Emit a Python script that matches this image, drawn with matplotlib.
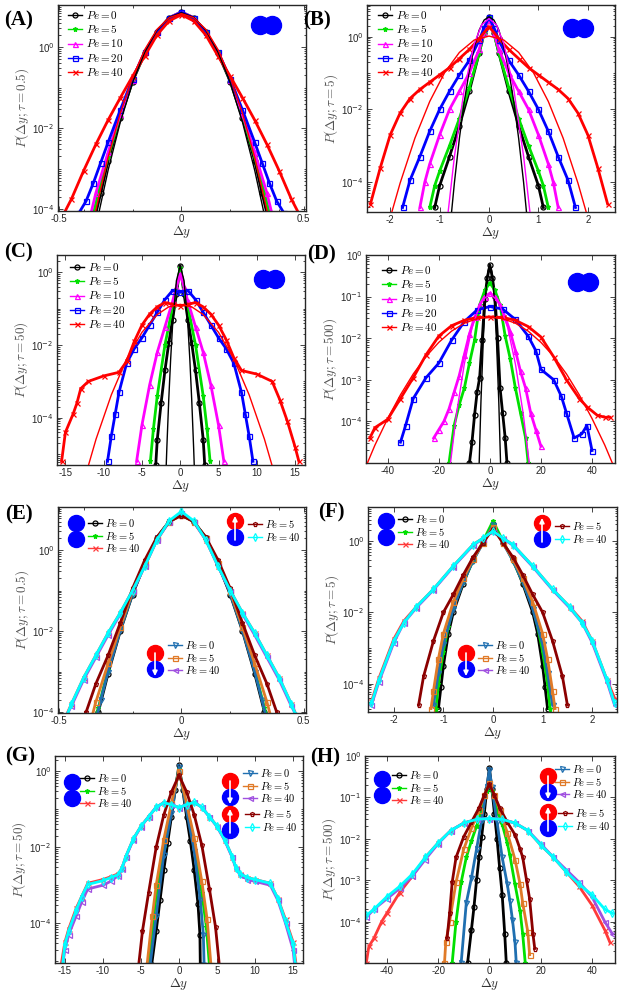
import numpy as np
import matplotlib
matplotlib.use('Agg')
import matplotlib.pyplot as plt
from matplotlib.lines import Line2D
from matplotlib.legend import Legend
from matplotlib.patches import FancyArrowPatch
from matplotlib.ticker import FixedLocator, FuncFormatter, LogLocator, NullFormatter

plt.rcParams['font.family'] = ['Liberation Sans', 'DejaVu Sans']
plt.rcParams['font.size'] = 7
plt.rcParams['axes.unicode_minus'] = False

# ---- data: x = delta y, lp = log10 P ----
# (A) tau = 0.5, side by side
a_x_pe0 = [-0.35, -0.33, -0.30, -0.25, -0.20, -0.15, -0.10, -0.05, 0.0, 0.05, 0.10, 0.15, 0.20, 0.25, 0.30, 0.33, 0.35]
a_lp_pe0 = [-4.1, -3.6, -2.8, -1.75, -0.85, -0.15, 0.37, 0.72, 0.86, 0.72, 0.37, -0.15, -0.85, -1.75, -2.8, -3.6, -4.1]
a_x_pe5 = [-0.36, -0.34, -0.30, -0.25, -0.20, -0.15, -0.10, -0.05, 0.0, 0.05, 0.10, 0.15, 0.20, 0.25, 0.30, 0.34, 0.36]
a_lp_pe5 = [-4.1, -3.6, -2.7, -1.7, -0.82, -0.13, 0.38, 0.73, 0.87, 0.73, 0.38, -0.13, -0.82, -1.7, -2.7, -3.6, -4.1]
a_x_pe10 = [-0.37, -0.35, -0.30, -0.25, -0.20, -0.15, -0.10, -0.05, 0.0, 0.05, 0.10, 0.15, 0.20, 0.25, 0.30, 0.35, 0.37]
a_lp_pe10 = [-4.1, -3.6, -2.6, -1.65, -0.8, -0.12, 0.38, 0.73, 0.87, 0.73, 0.38, -0.12, -0.8, -1.65, -2.6, -3.6, -4.1]
a_x_pe20 = [-0.42, -0.39, -0.36, -0.33, -0.30, -0.25, -0.20, -0.15, -0.10, -0.05, 0.0,
            0.05, 0.10, 0.15, 0.20, 0.25, 0.30, 0.33, 0.36, 0.39, 0.42]
a_lp_pe20 = [-4.1, -3.8, -3.35, -2.85, -2.35, -1.55, -0.78, -0.12, 0.37, 0.72, 0.86,
             0.72, 0.37, -0.12, -0.78, -1.55, -2.35, -2.85, -3.35, -3.8, -4.1]
a_x_pe40 = [-0.48, -0.45, -0.40, -0.35, -0.30, -0.25, -0.20, -0.15, -0.10, -0.05, 0.0,
            0.05, 0.10, 0.15, 0.20, 0.25, 0.30, 0.35, 0.40, 0.45, 0.48]
a_lp_pe40 = [-4.1, -3.75, -3.05, -2.4, -1.8, -1.25, -0.72, -0.22, 0.3, 0.65, 0.8,
             0.65, 0.3, -0.22, -0.72, -1.25, -1.8, -2.4, -3.05, -3.75, -4.1]
a_x_fit0 = [-0.345, -0.3, -0.25, -0.2, -0.15, -0.1, -0.05, 0.0, 0.05, 0.1, 0.15, 0.2, 0.25, 0.3, 0.345]
a_lp_fit0 = [-4.29, -3.04, -1.85, -0.88, -0.12, 0.42, 0.74, 0.85, 0.74, 0.42, -0.12, -0.88, -1.85, -3.04, -4.29]
a_x_fit40 = [-0.36, -0.3, -0.25, -0.2, -0.15, -0.1, -0.05, 0.0, 0.05, 0.1, 0.15, 0.2, 0.25, 0.3, 0.36]
a_lp_fit40 = [-4.28, -2.72, -1.63, -0.75, -0.06, 0.44, 0.73, 0.83, 0.73, 0.44, -0.06, -0.75, -1.63, -2.72, -4.28]

# (B) tau = 5
b_x_pe0 = [-1.1, -1.0, -0.8, -0.6, -0.4, -0.2, -0.1, 0, 0.1, 0.2, 0.4, 0.6, 0.8, 1.0, 1.1]
b_lp_pe0 = [-4.7, -4.1, -3.3, -2.45, -1.5, -0.45, 0.1, 0.55, 0.1, -0.45, -1.5, -2.45, -3.3, -4.1, -4.7]
b_x_pe5 = [-1.2, -1.1, -1.0, -0.8, -0.6, -0.4, -0.2, -0.1, 0, 0.1, 0.2, 0.4, 0.6, 0.8, 1.0, 1.1, 1.2]
b_lp_pe5 = [-4.7, -4.1, -3.7, -3.0, -2.25, -1.4, -0.45, 0.1, 0.55, 0.1, -0.45, -1.4, -2.25, -3.0, -3.7, -4.1, -4.7]
b_x_pe10 = [-1.4, -1.3, -1.2, -1.0, -0.8, -0.6, -0.4, -0.2, -0.1, 0, 0.1, 0.2, 0.4, 0.6, 0.8, 1.0, 1.2, 1.3, 1.4]
b_lp_pe10 = [-4.7, -4.0, -3.5, -2.7, -2.0, -1.5, -1.0, -0.35, 0.1, 0.5, 0.1, -0.35, -1.0, -1.5, -2.0, -2.7, -3.5, -4.0, -4.7]
b_x_pe20 = [-1.75, -1.6, -1.4, -1.2, -1.0, -0.8, -0.6, -0.4, -0.2, -0.1, 0,
            0.1, 0.2, 0.4, 0.6, 0.8, 1.0, 1.2, 1.4, 1.6, 1.75]
b_lp_pe20 = [-4.7, -3.95, -3.3, -2.6, -2.0, -1.5, -1.05, -0.65, -0.1, 0.25, 0.55,
             0.25, -0.1, -0.65, -1.05, -1.5, -2.0, -2.6, -3.3, -3.95, -4.7]
b_x_pe40 = [-2.4, -2.2, -2.0, -1.8, -1.6, -1.4, -1.2, -1.0, -0.8, -0.6, -0.4, -0.2, 0,
            0.2, 0.4, 0.6, 0.8, 1.0, 1.2, 1.4, 1.6, 1.8, 2.0, 2.2, 2.4]
b_lp_pe40 = [-4.6, -3.6, -2.7, -2.1, -1.7, -1.45, -1.25, -1.05, -0.85, -0.6, -0.35, -0.05, 0.28,
             -0.05, -0.35, -0.6, -0.85, -1.05, -1.25, -1.45, -1.7, -2.1, -2.7, -3.6, -4.6]
b_x_fit0 = [-0.8, -0.7, -0.6, -0.5, -0.4, -0.3, -0.2, -0.1, 0, 0.1, 0.2, 0.3, 0.4, 0.5, 0.6, 0.7, 0.8]
b_lp_fit0 = [-5.41, -4.01, -2.8, -1.78, -0.94, -0.29, 0.18, 0.46, 0.55, 0.46, 0.18, -0.29, -0.94, -1.78, -2.8, -4.01, -5.41]
b_x_fit10 = [-0.85, -0.7, -0.5, -0.3, -0.15, 0, 0.15, 0.3, 0.5, 0.7, 0.85]
b_lp_fit10 = [-5.09, -3.29, -1.43, -0.2, 0.33, 0.5, 0.33, -0.2, -1.43, -3.29, -5.09]
b_x_fit40 = [-2.0, -1.8, -1.5, -1.2, -0.9, -0.6, -0.3, 0, 0.3, 0.6, 0.9, 1.2, 1.5, 1.8, 2.0]
b_lp_fit40 = [-4.98, -4.03, -2.79, -1.78, -0.99, -0.43, -0.09, 0.02, -0.09, -0.43, -0.99, -1.78, -2.79, -4.03, -4.98]

# (C) tau = 50
c_x_pe0 = [-3.2, -3.0, -2.5, -2.0, -1.5, -1.0, -0.5, 0, 0.5, 1.0, 1.5, 2.0, 2.5, 3.0, 3.2]
c_lp_pe0 = [-5.3, -4.6, -3.6, -2.7, -1.95, -1.3, -0.6, 0.18, -0.6, -1.3, -1.95, -2.7, -3.6, -4.6, -5.3]
c_x_pe5 = [-3.9, -3.5, -3.0, -2.0, -1.0, -0.5, 0, 0.5, 1.0, 2.0, 3.0, 3.5, 3.9]
c_lp_pe5 = [-5.2, -4.3, -3.4, -2.0, -0.95, -0.45, 0.11, -0.45, -0.95, -2.0, -3.4, -4.3, -5.2]
c_x_pe10 = [-5.7, -5.0, -4.0, -3.0, -2.0, -1.0, -0.5, 0, 0.5, 1.0, 2.0, 3.0, 4.0, 5.0, 5.7]
c_lp_pe10 = [-5.2, -4.2, -3.1, -2.2, -1.5, -0.8, -0.4, -0.05, -0.4, -0.8, -1.5, -2.2, -3.1, -4.2, -5.2]
c_x_pe20 = [-9.5, -9.0, -8.5, -8.0, -7.0, -6.0, -5.0, -4.0, -3.0, -2.0, -1.0, 0,
            1.0, 2.0, 3.0, 4.0, 5.0, 6.0, 7.0, 8.0, 8.5, 9.0, 9.5]
c_lp_pe20 = [-5.2, -4.5, -3.9, -3.3, -2.5, -2.1, -1.8, -1.45, -1.1, -0.75, -0.5, -0.55,
             -0.5, -0.75, -1.1, -1.45, -1.8, -2.1, -2.5, -3.3, -3.9, -4.5, -5.2]
c_x_pe40 = [-15.5, -15, -14, -13.5, -13, -12, -10, -8, -7, -6, -5, -4, -3, -2, -1, 0,
            1, 2, 3, 4, 5, 6, 7, 8, 10, 12, 13, 14, 15, 15.5]
c_lp_pe40 = [-5.2, -4.4, -3.9, -3.6, -3.2, -3.0, -2.85, -2.75, -2.45, -1.9, -1.45, -1.15, -0.95, -0.83, -0.88, -0.92,
             -0.88, -0.83, -0.95, -1.15, -1.45, -1.85, -2.35, -2.7, -2.8, -3.0, -3.5, -4.1, -4.8, -5.2]
c_x_fit0 = [-1.9, -1.75, -1.5, -1.25, -1.0, -0.5, 0, 0.5, 1.0, 1.25, 1.5, 1.75, 1.9]
c_lp_fit0 = [-5.73, -4.83, -3.5, -2.38, -1.46, -0.23, 0.18, -0.23, -1.46, -2.38, -3.5, -4.83, -5.73]
c_x_fit40 = [-12.5, -11, -9, -7, -5, -3, -1.5, 0, 1.5, 3, 5, 7, 9, 11, 12.5]
c_lp_fit40 = [-5.68, -4.59, -3.37, -2.38, -1.65, -1.16, -0.95, -0.88, -0.95, -1.16, -1.65, -2.38, -3.37, -4.59, -5.68]

# (D) tau = 500
d_x_pe0 = [-8, -7, -6, -5, -4, -3, -2, -1, 0, 1, 2, 3, 4, 5, 6, 6.7]
d_lp_pe0 = [-5.0, -4.5, -3.85, -3.3, -2.95, -2.05, -1.05, -0.55, -0.24, -0.55, -1.0, -2.0, -3.2, -3.8, -4.4, -5.0]
d_x_pe5 = [-16, -14, -12, -10, -8, -6, -4, -2, 0, 2, 4, 6, 8, 10, 12, 14, 15]
d_lp_pe5 = [-5.0, -4.1, -3.6, -3.2, -2.6, -2.05, -1.2, -0.85, -0.67, -0.85, -1.2, -1.95, -2.5, -3.2, -3.8, -4.4, -5.0]
d_x_pe10 = [-22, -20, -18, -16, -14, -12, -10, -8, -6, -4, -2, 0, 2, 4, 6, 8, 10, 12, 14, 16, 18, 20]
d_lp_pe10 = [-4.4, -4.2, -4.0, -3.7, -3.3, -2.9, -2.4, -1.9, -1.5, -1.2, -1.0, -0.92,
             -1.0, -1.2, -1.5, -1.85, -2.3, -2.8, -3.2, -3.8, -4.2, -4.6]
d_x_pe20 = [-35, -33, -30, -25, -20, -15, -10, -5, 0, 5, 10, 15, 18, 20, 25, 28, 30, 33, 36, 38, 40]
d_lp_pe20 = [-4.5, -4.1, -3.45, -2.95, -2.6, -2.05, -1.6, -1.32, -1.24, -1.3, -1.55, -1.95,
             -2.3, -2.75, -3.0, -3.4, -3.8, -4.4, -4.3, -4.1, -4.7]
d_x_pe40 = [-47, -45, -40, -35, -30, -25, -20, -15, -10, -5, 0, 5, 10, 15, 20, 25, 30, 35, 38, 42, 45, 47]
d_lp_pe40 = [-4.4, -4.15, -3.95, -3.45, -2.95, -2.4, -1.95, -1.7, -1.57, -1.5, -1.49,
             -1.5, -1.57, -1.72, -1.97, -2.45, -3.0, -3.45, -3.65, -3.85, -3.9, -3.9]
d_x_fit0 = [-4.4, -3.5, -2.5, -1.5, -0.75, 0, 0.75, 1.5, 2.5, 3.5, 4.4]
d_lp_fit0 = [-5.46, -3.54, -1.93, -0.85, -0.39, -0.24, -0.39, -0.85, -1.93, -3.54, -5.46]
d_x_fit10 = [-16.5, -13, -10, -7, -3.5, 0, 3.5, 7, 10, 13, 16.5]
d_lp_fit10 = [-5.54, -3.79, -2.62, -1.75, -1.13, -0.92, -1.13, -1.75, -2.62, -3.79, -5.54]
d_x_fit40 = [-50, -45, -40, -35, -30, -25, -20, -15, -10, -5, 0, 5, 10, 15, 20, 25, 30, 35, 40, 45, 50]
d_lp_fit40 = [-5.3, -4.57, -3.93, -3.36, -2.86, -2.44, -2.1, -1.83, -1.64, -1.53, -1.49,
              -1.53, -1.64, -1.83, -2.1, -2.44, -2.86, -3.36, -3.93, -4.57, -5.3]

# (E) tau = 0.5 ; b = side by side, d = facing down, u = facing up
e_x_b0 = [-0.35, -0.34, -0.30, -0.25, -0.20, -0.15, -0.10, -0.05, 0, 0.05, 0.10, 0.15, 0.20, 0.25, 0.30, 0.34, 0.35]
e_lp_b0 = [-4.3, -4.0, -3.05, -2.0, -1.1, -0.35, 0.3, 0.7, 0.88, 0.7, 0.3, -0.35, -1.1, -2.0, -3.05, -4.0, -4.3]
e_x_b5 = [-0.36, -0.34, -0.30, -0.25, -0.20, -0.15, -0.10, -0.05, 0, 0.05, 0.10, 0.15, 0.20, 0.25, 0.30, 0.34, 0.36]
e_lp_b5 = [-4.3, -3.9, -2.95, -1.95, -1.05, -0.33, 0.3, 0.7, 0.87, 0.7, 0.3, -0.33, -1.05, -1.95, -2.95, -3.9, -4.3]
e_x_b40 = [-0.48, -0.45, -0.40, -0.35, -0.30, -0.25, -0.20, -0.15, -0.10, -0.05, 0,
           0.05, 0.10, 0.15, 0.20, 0.25, 0.30, 0.35, 0.40, 0.45, 0.48]
e_lp_b40 = [-4.2, -3.8, -3.15, -2.6, -2.05, -1.55, -1.0, -0.4, 0.25, 0.7, 0.9,
            0.7, 0.25, -0.4, -1.0, -1.55, -2.05, -2.6, -3.15, -3.8, -4.2]
e_x_d0 = [-0.35, -0.33, -0.30, -0.25, -0.20, -0.15, -0.10, -0.05, 0, 0.05, 0.10, 0.15, 0.20, 0.25, 0.30, 0.33, 0.35]
e_lp_d0 = [-4.2, -3.7, -3.0, -1.98, -1.08, -0.34, 0.3, 0.7, 0.88, 0.7, 0.3, -0.34, -1.08, -1.98, -3.0, -3.7, -4.2]
e_x_d5 = [-0.37, -0.35, -0.30, -0.25, -0.20, -0.15, -0.10, -0.05, 0, 0.05, 0.10, 0.15, 0.20, 0.25, 0.30, 0.35, 0.37]
e_lp_d5 = [-4.2, -3.75, -2.8, -1.9, -1.02, -0.32, 0.3, 0.7, 0.87, 0.7, 0.3, -0.32, -1.02, -1.9, -2.8, -3.75, -4.2]
e_x_d40 = [-0.48, -0.45, -0.40, -0.35, -0.30, -0.25, -0.20, -0.15, -0.10, -0.05, 0,
           0.05, 0.10, 0.15, 0.20, 0.25, 0.30, 0.35, 0.40, 0.45, 0.48]
e_lp_d40 = [-4.2, -3.85, -3.2, -2.65, -2.1, -1.58, -1.02, -0.4, 0.25, 0.7, 0.92,
            0.7, 0.25, -0.4, -1.02, -1.58, -2.1, -2.65, -3.2, -3.85, -4.2]
e_x_u5 = [-0.40, -0.39, -0.35, -0.30, -0.25, -0.20, -0.15, -0.10, -0.05, 0,
          0.05, 0.10, 0.15, 0.20, 0.25, 0.30, 0.35, 0.39, 0.40]
e_lp_u5 = [-4.2, -4.0, -3.3, -2.6, -1.8, -0.95, -0.25, 0.32, 0.7, 0.85,
           0.7, 0.32, -0.25, -0.95, -1.8, -2.6, -3.3, -4.0, -4.2]
e_x_u40 = [-0.47, -0.45, -0.40, -0.35, -0.30, -0.25, -0.20, -0.15, -0.10, -0.05, 0,
           0.05, 0.10, 0.15, 0.20, 0.25, 0.30, 0.35, 0.40, 0.45, 0.47]
e_lp_u40 = [-4.1, -3.8, -3.15, -2.6, -2.05, -1.55, -1.0, -0.4, 0.25, 0.72, 0.95,
            0.72, 0.25, -0.4, -1.0, -1.55, -2.05, -2.6, -3.15, -3.8, -4.1]

# (F) tau = 5
f_x_b0 = [-1.1, -1.05, -1.0, -0.9, -0.8, -0.6, -0.4, -0.2, 0, 0.2, 0.4, 0.6, 0.8, 0.9, 1.0, 1.05, 1.1]
f_lp_b0 = [-4.7, -4.1, -3.5, -2.6, -2.0, -1.2, -0.5, -0.05, 0.47, -0.05, -0.5, -1.2, -2.0, -2.6, -3.5, -4.1, -4.7]
f_x_b5 = [-1.15, -1.1, -1.0, -0.9, -0.8, -0.6, -0.4, -0.2, 0, 0.2, 0.4, 0.6, 0.8, 0.9, 1.0, 1.1, 1.15]
f_lp_b5 = [-4.7, -4.0, -3.1, -2.4, -1.85, -1.15, -0.55, 0.0, 0.56, 0.0, -0.55, -1.15, -1.85, -2.4, -3.1, -4.0, -4.7]
f_x_b40 = [-2.45, -2.3, -2.0, -1.8, -1.55, -1.2, -0.8, -0.4, -0.2, 0, 0.2, 0.4, 0.8, 1.2, 1.55, 1.8, 2.0, 2.3, 2.45]
f_lp_b40 = [-4.5, -3.85, -2.75, -2.25, -1.85, -1.35, -0.7, -0.1, 0.08, 0.27,
            0.08, -0.1, -0.7, -1.35, -1.85, -2.25, -2.8, -3.9, -4.4]
f_x_d0 = [-1.2, -1.1, -1.0, -0.8, -0.6, -0.4, -0.2, 0, 0.2, 0.4, 0.6, 0.8, 1.0, 1.1, 1.2]
f_lp_d0 = [-4.6, -3.7, -2.9, -1.9, -1.15, -0.55, -0.05, 0.45, -0.05, -0.55, -1.15, -1.9, -2.9, -3.7, -4.6]
f_x_d5 = [-1.25, -1.2, -1.1, -1.0, -0.8, -0.6, -0.4, -0.2, 0, 0.2, 0.4, 0.6, 0.8, 1.0, 1.1, 1.2, 1.25]
f_lp_d5 = [-4.7, -4.2, -3.3, -2.6, -1.7, -1.05, -0.5, -0.05, 0.4, -0.05, -0.5, -1.05, -1.7, -2.6, -3.3, -4.2, -4.7]
f_x_d40 = [-2.45, -2.3, -2.0, -1.8, -1.55, -1.2, -0.8, -0.4, -0.2, 0, 0.2, 0.4, 0.8, 1.2, 1.55, 1.8, 2.0, 2.3, 2.45]
f_lp_d40 = [-4.6, -3.95, -2.85, -2.3, -1.88, -1.37, -0.72, -0.12, 0.07, 0.26,
            0.07, -0.12, -0.72, -1.37, -1.88, -2.3, -2.85, -3.95, -4.6]
f_x_u5 = [-1.5, -1.4, -1.2, -1.0, -0.8, -0.6, -0.4, -0.2, 0, 0.2, 0.4, 0.6, 0.8, 1.0, 1.2, 1.4, 1.5]
f_lp_u5 = [-4.6, -3.8, -2.8, -2.0, -1.5, -0.95, -0.45, -0.05, 0.35, -0.05, -0.45, -0.95, -1.5, -2.0, -2.8, -3.8, -4.6]
f_x_u40 = [-2.45, -2.3, -2.0, -1.8, -1.55, -1.2, -0.8, -0.4, -0.2, 0, 0.2, 0.4, 0.8, 1.2, 1.55, 1.8, 2.0, 2.3, 2.45]
f_lp_u40 = [-4.55, -3.9, -2.8, -2.3, -1.85, -1.35, -0.7, -0.1, 0.08, 0.28,
            0.08, -0.1, -0.7, -1.35, -1.85, -2.3, -2.8, -3.9, -4.55]

# (G) tau = 50
g_x_b0 = [-3.6, -3.0, -2.5, -2.0, -1.5, -1.0, -0.5, 0, 0.5, 1.0, 1.5, 2.0, 2.5, 2.75, 2.8]
g_lp_b0 = [-5.1, -4.2, -3.4, -2.6, -1.9, -1.2, -0.5, 0.15, -0.5, -1.2, -1.85, -2.6, -3.5, -4.3, -5.1]
g_x_b5 = [-4, -3.5, -3, -2, -1, 0, 1, 2, 3, 3.6, 4]
g_lp_b5 = [-5.1, -4.1, -3.3, -2.0, -0.95, 0.05, -0.95, -1.95, -3.2, -4.1, -5.1]
g_x_b40 = [-15.5, -15, -14.5, -13.5, -12.8, -12, -10, -9, -8, -7.5, -7, -6, -5, -4, -3, -2, -1, 0,
           1, 2, 3, 4, 5, 6, 7, 7.5, 8, 9, 10, 12, 13, 14, 15, 15.4]
g_lp_b40 = [-5.1, -4.5, -4.15, -3.6, -3.3, -2.95, -2.85, -2.78, -2.7, -2.55, -2.25, -1.78, -1.45, -1.2, -0.95, -0.83, -0.88, -0.96,
            -0.88, -0.82, -0.95, -1.2, -1.45, -1.8, -2.25, -2.55, -2.7, -2.8, -2.85, -2.95, -3.35, -3.9, -4.5, -5.1]
g_x_d0 = [-3.8, -3, -2, -1, 0, 1, 2, 2.8, 3.2, 3.3]
g_lp_d0 = [-5.1, -3.8, -2.2, -1.1, 0.1, -1.05, -2.1, -3.4, -4.3, -5.1]
g_x_d5 = [-4.2, -3.5, -3, -2, -1, 0, 1, 2, 3, 3.7, 4.2]
g_lp_d5 = [-5.1, -3.8, -3.0, -1.8, -0.85, 0.0, -0.85, -1.75, -2.9, -3.9, -5.1]
g_x_d40 = [-15.3, -15, -14.5, -13.5, -12.8, -12, -10, -9, -8, -7.5, -7, -6, -5, -4, -3, -2, -1, 0,
           1, 2, 3, 4, 5, 6, 7, 7.5, 8, 9, 10, 12, 13, 14, 15, 15.2]
g_lp_d40 = [-5.1, -4.7, -4.3, -3.8, -3.45, -3.1, -3.0, -2.9, -2.75, -2.57, -2.27, -1.8, -1.46, -1.2, -0.95, -0.83, -0.88, -0.96,
            -0.88, -0.82, -0.95, -1.2, -1.46, -1.82, -2.27, -2.57, -2.72, -2.85, -2.9, -3.0, -3.4, -4.0, -4.7, -5.1]
g_x_u5 = [-5.3, -4.8, -4, -3, -2, -1, 0, 1, 2, 3, 4, 4.8, 5.3]
g_lp_u5 = [-5.1, -4.2, -3.2, -2.0, -1.15, -0.55, -0.11, -0.55, -1.15, -1.95, -3.1, -4.1, -5.1]
g_x_u40 = [-15.3, -15, -14.5, -13.5, -12.8, -12, -10, -9, -8, -7.5, -7, -6, -5, -4, -3, -2, -1, 0,
           1, 2, 3, 4, 5, 6, 7, 7.5, 8, 9, 10, 12, 13, 14, 15, 15.3]
g_lp_u40 = [-5.1, -4.55, -4.2, -3.65, -3.3, -2.98, -2.88, -2.8, -2.72, -2.55, -2.25, -1.78, -1.45, -1.2, -0.95, -0.83, -0.88, -0.96,
            -0.88, -0.82, -0.95, -1.2, -1.45, -1.8, -2.25, -2.55, -2.7, -2.8, -2.85, -2.95, -3.35, -3.95, -4.55, -5.1]

# (H) tau = 500
h_x_b0 = [-8.5, -7, -6, -5, -4, -3, -2, -1, 0, 1, 2, 3, 4, 5, 6, 6.6]
h_lp_b0 = [-5.0, -4.2, -3.65, -3.0, -2.45, -1.95, -1.4, -0.8, -0.29, -0.8, -1.4, -2.0, -2.7, -3.35, -4.3, -5.0]
h_x_b5 = [-14.5, -13, -11, -9, -7, -5, -3, -1, 0, 1, 3, 5, 7, 8, 10, 12, 13, 14]
h_lp_b5 = [-5.0, -4.0, -3.05, -2.45, -2.05, -1.7, -1.3, -0.85, -0.65, -0.85, -1.3, -1.65, -2.1, -2.4, -3.1, -3.75, -4.3, -5.0]
h_x_b40 = [-48, -47, -45, -42, -40, -35, -30, -25, -20, -15, -10, -5, 0,
           5, 10, 15, 20, 25, 30, 35, 40, 45, 47]
h_lp_b40 = [-5.0, -4.6, -4.4, -4.0, -3.8, -3.3, -2.9, -2.45, -2.1, -1.8, -1.62, -1.53, -1.51,
            -1.53, -1.62, -1.8, -2.15, -2.45, -2.8, -3.15, -3.6, -4.2, -4.5]
h_x_d0 = [-11, -9, -7, -5, -3, -1, 0, 1, 3, 5, 7, 8, 9, 10, 10.5]
h_lp_d0 = [-5.0, -3.55, -2.95, -2.25, -1.55, -0.75, -0.33, -0.75, -1.6, -2.45, -3.1, -3.5, -3.95, -4.5, -5.0]
h_x_d5 = [-17.5, -17, -15.5, -13, -10, -7, -4, -2, 0, 2, 4, 7, 10, 12, 13, 15, 15.7]
h_lp_d5 = [-5.0, -4.5, -4.0, -3.05, -2.25, -1.75, -1.3, -0.95, -0.65, -0.95, -1.3, -1.85, -2.5, -3.1, -3.55, -4.25, -4.8]
h_x_d40 = [-48, -45, -40, -35, -30, -25, -20, -15, -10, -5, 0, 5, 10, 15, 20, 25, 30, 35, 40, 45, 48]
h_lp_d40 = [-3.9, -3.7, -3.45, -3.2, -2.9, -2.5, -2.12, -1.8, -1.62, -1.53, -1.51,
            -1.53, -1.62, -1.8, -2.12, -2.45, -2.75, -3.05, -3.4, -4.0, -4.3]
h_x_u5 = [-16.5, -15.5, -14.5, -13, -10, -7, -4, -2, 0, 2, 4, 7, 10, 12, 13, 14.5, 15.7, 17, 17.7]
h_lp_u5 = [-4.4, -3.8, -3.05, -2.45, -1.95, -1.6, -1.25, -0.95, -0.68, -0.95, -1.25, -1.6, -1.9, -2.25, -2.45, -3.0, -3.45, -4.3, -4.65]
h_x_u40 = [-48, -45, -40, -35, -30, -25, -20, -15, -10, -5, 0, 5, 10, 15, 20, 25, 30, 35, 40, 45, 48]
h_lp_u40 = [-3.85, -3.7, -3.4, -3.15, -2.85, -2.45, -2.1, -1.8, -1.62, -1.53, -1.51,
            -1.53, -1.62, -1.8, -2.15, -2.45, -2.8, -3.1, -3.35, -3.7, -3.8]

pe_labels_5 = [r'$Pe = 0$', r'$Pe = 5$', r'$Pe = 10$', r'$Pe = 20$', r'$Pe = 40$']
pe_labels_b = [r'$Pe = 0$', r'$Pe = 5$', r'$Pe = 40$']
pe_labels_d = [r'$Pe = 0$', r'$Pe = 5$', r'$Pe = 40$']
pe_labels_u = [r'$Pe = 5$', r'$Pe = 40$']

# colour, marker, filled
STYLE = {
    'pe0': ('k', 'o', False), 'pe5': ('#00e000', '*', True), 'pe10': ('#ff00ff', '^', False),
    'pe20': ('#0000ff', 's', False), 'pe40': ('#ff0000', 'x', False),
    'b0': ('k', 'o', False), 'b5': ('#00e000', '*', True), 'b40': ('#ff3a3a', 'x', False),
    'd0': ('#1f6fb0', 'v', False), 'd5': ('#e07a28', 's', False), 'd40': ('#a050e0', '<', False),
    'u5': ('#8b0000', 'p', False), 'u40': ('#00ffff', 'd', False),
}

W, H = 623, 1002
fig = plt.figure(figsize=(W / 100, H / 100), dpi=100)


def fx(px):
    return px / W


def fy(py):
    return 1 - py / H


def make_ax(l, t, r, b, xlim, ylim, xticks, xminor, yticks, tau):
    ax = fig.add_axes([fx(l), fy(b), (r - l) / W, (b - t) / H])
    ax.set_yscale('log')
    ax.set_xlim(xlim)
    ax.set_ylim(ylim)
    ax.xaxis.set_major_locator(FixedLocator(xticks))
    ax.xaxis.set_major_formatter(FuncFormatter(lambda v, p: '%g' % v))
    if xminor:
        ax.xaxis.set_minor_locator(FixedLocator(xminor))
    ax.yaxis.set_major_locator(FixedLocator(yticks))
    ax.yaxis.set_major_formatter(FuncFormatter(lambda v, p: '10$^{%d}$' % round(np.log10(v))))
    ax.yaxis.set_minor_locator(LogLocator(base=10, subs=np.arange(1, 10), numticks=30))
    ax.yaxis.set_minor_formatter(NullFormatter())
    ax.tick_params(which='both', direction='in', top=True, right=True, width=0.6,
                   colors='#262626', labelsize=7)
    ax.tick_params(which='major', length=3.5, pad=2.5)
    ax.tick_params(which='minor', length=1.8)
    for s in ax.spines.values():
        s.set_linewidth(1.0)
        s.set_color('#262626')
    ax.set_xlabel(r'$\Delta y$', math_fontfamily='cm', fontsize=9.5, color='#333333', labelpad=0)
    ax.set_ylabel(r'$P(\Delta y; \tau = %s)$' % tau, math_fontfamily='cm', fontsize=9.5,
                  color='#555555', labelpad=1)
    return ax


def data(ax, x, lp, key):
    c, m, filled = STYLE[key]
    return ax.plot(x, np.power(10.0, lp), color=c, marker=m, ms=3.6, mew=0.9,
                   mfc=c if filled else 'none', lw=2.0)[0]


def fit(ax, x, lp, c):
    ax.plot(x, np.power(10.0, lp), color=c, lw=1.0, zorder=5)


def legend(ax, handles, labels, x, y, size=8, spacing=0.2):
    leg = Legend(ax, handles, labels, loc='upper left', bbox_to_anchor=(fx(x), fy(y)),
                 bbox_transform=fig.transFigure, frameon=False, fontsize=size,
                 handlelength=1.3, handletextpad=0.3, labelspacing=spacing,
                 borderpad=0, borderaxespad=0)
    for t in leg.get_texts():
        t.set_math_fontfamily('cm')
    for h in leg.legend_handles:
        h.set_linewidth(1.0)
    ax.add_artist(leg)


def dot(x, y, c, d):
    fig.add_artist(Line2D([fx(x)], [fy(y)], transform=fig.transFigure, marker='o',
                          ms=d * 0.72, color=c, ls='none', zorder=8))


def arrow(x, y0, y1):
    fig.add_artist(FancyArrowPatch((fx(x), fy(y0)), (fx(x), fy(y1)), transform=fig.transFigure,
                                   arrowstyle='-|>', mutation_scale=7, color='white', lw=1.2,
                                   shrinkA=0, shrinkB=0, zorder=9))


def pair_side(x, y):
    dot(x, y, '#0000ff', 18)
    dot(x + 12, y, '#0000ff', 18)


def pair_stack(x, y, top, d=16):
    dot(x, y, top, d)
    dot(x, y + d, '#0000ff', d)


def panel_label(x, y, s):
    fig.text(fx(x), fy(y), s, fontfamily='Liberation Serif', fontweight='bold',
             fontsize=15, ha='left', va='center')


# ---- top four panels: side-by-side pair ----
top_panels = [
    ('A', (58, 5, 306, 211), (-0.505, 0.51), (9e-5, 11), [-0.5, 0, 0.5], [-0.4, -0.2, 0.2, 0.4],
     [1e-4, 1e-2, 1], '0.5',
     [(a_x_pe0, a_lp_pe0), (a_x_pe5, a_lp_pe5), (a_x_pe10, a_lp_pe10), (a_x_pe20, a_lp_pe20), (a_x_pe40, a_lp_pe40)],
     [(a_x_fit0, a_lp_fit0, 'k'), (a_x_fit40, a_lp_fit40, '#ff0000')],
     (68, 9), (260, 25), (4, 20)),
    ('B', (367, 5, 615, 212), (-2.47, 2.55), (1.5e-5, 7.5), [-2, -1, 0, 1, 2], None,
     [1e-4, 1e-2, 1], '5',
     [(b_x_pe0, b_lp_pe0), (b_x_pe5, b_lp_pe5), (b_x_pe10, b_lp_pe10), (b_x_pe20, b_lp_pe20), (b_x_pe40, b_lp_pe40)],
     [(b_x_fit0, b_lp_fit0, 'k'), (b_x_fit10, b_lp_fit10, '#ff00ff'), (b_x_fit40, b_lp_fit40, '#ff0000')],
     (378, 9), (572, 28), (303, 20)),
    ('C', (57, 255, 305, 465), (-16.1, 16.3), (5e-6, 3.0), [-15, -10, -5, 0, 5, 10, 15], None,
     [1e-4, 1e-2, 1], '50',
     [(c_x_pe0, c_lp_pe0), (c_x_pe5, c_lp_pe5), (c_x_pe10, c_lp_pe10), (c_x_pe20, c_lp_pe20), (c_x_pe40, c_lp_pe40)],
     [(c_x_fit0, c_lp_fit0, 'k'), (c_x_fit40, c_lp_fit40, '#ff0000')],
     (70, 261), (263, 279), (4, 252)),
    ('D', (366, 255, 615, 463), (-48.5, 49), (1e-5, 1.0), [-40, -20, 0, 20, 40], None,
     [1e-4, 1e-3, 1e-2, 1e-1, 1], '500',
     [(d_x_pe0, d_lp_pe0), (d_x_pe5, d_lp_pe5), (d_x_pe10, d_lp_pe10), (d_x_pe20, d_lp_pe20), (d_x_pe40, d_lp_pe40)],
     [(d_x_fit0, d_lp_fit0, 'k'), (d_x_fit10, d_lp_fit10, '#ff00ff'), (d_x_fit40, d_lp_fit40, '#ff0000')],
     (382, 264), (577, 282), (307, 254)),
]

for (name, box, xlim, ylim, xt, xm, yt, tau, curves, fits, legpos, icon, labpos) in top_panels:
    ax = make_ax(*box, xlim, ylim, xt, xm, yt, tau)
    handles = [data(ax, x, lp, key) for (x, lp), key in zip(curves, ['pe0', 'pe5', 'pe10', 'pe20', 'pe40'])]
    for x, lp, c in fits:
        fit(ax, x, lp, c)
    legend(ax, handles, pe_labels_5, *legpos)
    pair_side(*icon)
    panel_label(*labpos, '(%s)' % name)

# ---- bottom four panels: side pair, facing down, facing up ----
bottom_panels = [
    ('E', (58, 507, 306, 713), (-0.505, 0.51), (9.5e-5, 11.5), [-0.5, 0, 0.5], [-0.4, -0.2, 0.2, 0.4],
     [1e-4, 1e-2, 1], '0.5',
     [(e_x_b0, e_lp_b0), (e_x_b5, e_lp_b5), (e_x_b40, e_lp_b40)],
     [(e_x_d0, e_lp_d0), (e_x_d5, e_lp_d5), (e_x_d40, e_lp_d40)],
     [(e_x_u5, e_lp_u5), (e_x_u40, e_lp_u40)],
     (88, 517), (168, 639), (248, 518), (76, 523), (155, 653), (235, 521), (5, 514)),
    ('F', (368, 507, 617, 712), (-2.52, 2.5), (1.6e-5, 9.0), [-2, -1, 0, 1, 2], None,
     [1e-4, 1e-2, 1], '5',
     [(f_x_b0, f_lp_b0), (f_x_b5, f_lp_b5), (f_x_b40, f_lp_b40)],
     [(f_x_d0, f_lp_d0), (f_x_d5, f_lp_d5), (f_x_d40, f_lp_d40)],
     [(f_x_u5, f_lp_u5), (f_x_u40, f_lp_u40)],
     (398, 513), (478, 639), (555, 520), (386, 521), (466, 653), (542, 523), (318, 512)),
    ('G', (55, 756, 303, 963), (-16.3, 16.3), (9e-6, 2.5), [-15, -10, -5, 0, 5, 10, 15], None,
     [1e-4, 1e-2, 1], '50',
     [(g_x_b0, g_lp_b0), (g_x_b5, g_lp_b5), (g_x_b40, g_lp_b40)],
     [(g_x_d0, g_lp_d0), (g_x_d5, g_lp_d5), (g_x_d40, g_lp_d40)],
     [(g_x_u5, g_lp_u5), (g_x_u40, g_lp_u40)],
     (80, 772), (243, 767), (245, 808), (72, 782), (230, 781), (230, 814), (5, 756)),
    ('H', (365, 756, 615, 963), (-48.5, 49), (1e-5, 1.0), [-40, -20, 0, 20, 40], None,
     [1e-4, 1e-3, 1e-2, 1e-1, 1], '500',
     [(h_x_b0, h_lp_b0), (h_x_b5, h_lp_b5), (h_x_b40, h_lp_b40)],
     [(h_x_d0, h_lp_d0), (h_x_d5, h_lp_d5), (h_x_d40, h_lp_d40)],
     [(h_x_u5, h_lp_u5), (h_x_u40, h_lp_u40)],
     (392, 769), (555, 763), (558, 807), (382, 779), (548, 776), (548, 812), (310, 757)),
]

for (name, box, xlim, ylim, xt, xm, yt, tau, side, down, up,
     leg_b, leg_d, leg_u, ic_b, ic_d, ic_u, labpos) in bottom_panels:
    ax = make_ax(*box, xlim, ylim, xt, xm, yt, tau)
    hb = [data(ax, x, lp, k) for (x, lp), k in zip(side, ['b0', 'b5', 'b40'])]
    hd = [data(ax, x, lp, k) for (x, lp), k in zip(down, ['d0', 'd5', 'd40'])]
    hu = [data(ax, x, lp, k) for (x, lp), k in zip(up, ['u5', 'u40'])]
    legend(ax, hb, pe_labels_b, *leg_b, size=7.5, spacing=0.05)
    legend(ax, hd, pe_labels_d, *leg_d, size=7.5, spacing=0.05)
    legend(ax, hu, pe_labels_u, *leg_u, size=7.5, spacing=0.05)
    pair_stack(*ic_b, '#0000ff')
    pair_stack(*ic_d, '#ff0000')
    arrow(ic_d[0], ic_d[1], ic_d[1] + 23)
    pair_stack(*ic_u, '#ff0000')
    arrow(ic_u[0], ic_u[1] + 19, ic_u[1] - 5)
    panel_label(*labpos, '(%s)' % name)

fig.savefig('out.png', dpi=100)
